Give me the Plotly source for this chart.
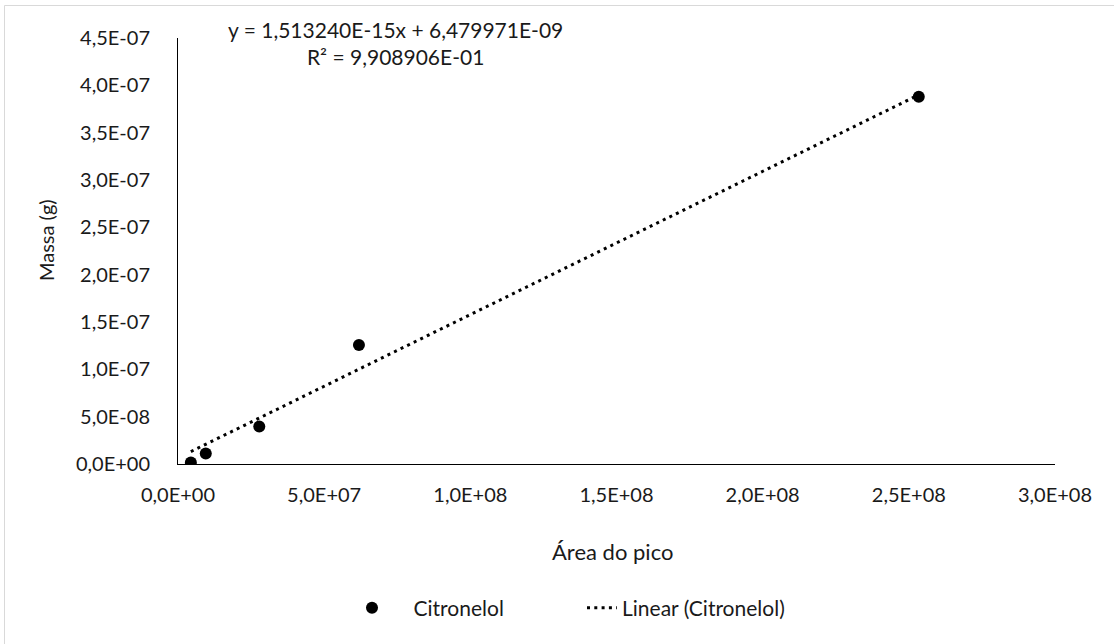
import plotly.graph_objects as go

# Data
area_pico = [4.4e6, 9.5e6, 2.78e7, 6.19e7, 2.534e8]
massa_g = [1.5e-9, 1.1e-8, 3.95e-8, 1.257e-7, 3.88e-7]

# Trendline coefficients (as shown on the chart)
slope = 1.513240e-15
intercept = 6.479971e-09
eq_text = "y = 1,513240E-15x + 6,479971E-09<br>R² = 9,908906E-01"

x_ticks = [0, 5e7, 1e8, 1.5e8, 2e8, 2.5e8, 3e8]
x_ticktext = ["0,0E+00", "5,0E+07", "1,0E+08", "1,5E+08", "2,0E+08", "2,5E+08", "3,0E+08"]
y_ticks = [0, 5e-8, 1e-7, 1.5e-7, 2e-7, 2.5e-7, 3e-7, 3.5e-7, 4e-7, 4.5e-7]
y_ticktext = ["0,0E+00", "5,0E-08", "1,0E-07", "1,5E-07", "2,0E-07", "2,5E-07",
              "3,0E-07", "3,5E-07", "4,0E-07", "4,5E-07"]

FONT = "Lato"
TXT = "#1a1a1a"
NB = "\u00a0"
x_line = [min(area_pico), max(area_pico)]
y_line = [slope * v + intercept for v in x_line]

fig = go.Figure()
fig.add_trace(go.Scatter(
    x=area_pico, y=massa_g, mode="markers", name=NB * 4 + "Citronelol",
    marker=dict(color="black", size=12, line=dict(width=0)),
))
fig.add_trace(go.Scatter(
    x=x_line, y=y_line, mode="lines", name="Linear (Citronelol)",
    line=dict(color="black", width=3, dash="3px,4.3px"),
))

L, R, T, B = 178, 59, 38, 180
W, H = 1114, 644
pw, ph = W - L - R, H - T - B

def px_x(p):
    return (p - L) / pw

def px_y(p):
    return (H - B - p) / ph

fig.update_layout(
    width=W, height=H,
    margin=dict(l=L, r=R, t=T, b=B),
    paper_bgcolor="white", plot_bgcolor="white",
    font=dict(family=FONT, size=20, color=TXT),
    showlegend=True,
    legend=dict(orientation="h", x=px_x(352), xanchor="left",
                y=px_y(608), yanchor="middle",
                font=dict(family=FONT, size=21, color=TXT),
                entrywidth=185, entrywidthmode="pixels", tracegroupgap=0),
    xaxis=dict(range=[0, 3e8], tickvals=x_ticks, ticktext=x_ticktext,
               showgrid=False, zeroline=False, showline=True,
               linecolor="black", linewidth=1, ticks="",
               ticklabelstandoff=13, fixedrange=True),
    yaxis=dict(range=[0, 4.5e-7], tickvals=y_ticks, ticktext=y_ticktext,
               showgrid=False, zeroline=False, showline=True,
               linecolor="black", linewidth=1, ticks="",
               ticklabelstandoff=23, fixedrange=True),
    annotations=[
        dict(text=eq_text, x=px_x(395), y=px_y(43), xref="paper", yref="paper",
             showarrow=False, align="center", xanchor="center", yanchor="middle",
             font=dict(family=FONT, size=21, color=TXT)),
        dict(text="Área do pico", x=px_x(612), y=px_y(551), xref="paper", yref="paper",
             showarrow=False, xanchor="center", yanchor="middle",
             font=dict(family=FONT, size=22, color=TXT)),
        dict(text="Massa (g)", x=px_x(46), y=px_y(240), xref="paper", yref="paper",
             showarrow=False, textangle=-90, xanchor="center", yanchor="middle",
             font=dict(family=FONT, size=20, color=TXT)),
    ],
    shapes=[
        dict(type="rect", xref="paper", yref="paper",
             x0=px_x(4.5), x1=px_x(1130), y0=px_y(660), y1=px_y(5.5),
             line=dict(color="#d9d9d9", width=1), fillcolor="rgba(0,0,0,0)",
             layer="below"),
    ],
)

fig.write_html("out.html")
